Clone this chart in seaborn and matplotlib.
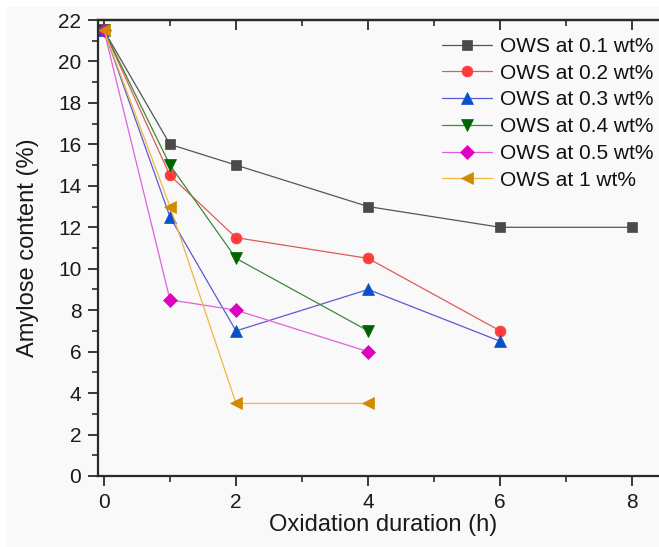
import matplotlib
matplotlib.use("Agg")
import matplotlib.pyplot as plt
import seaborn as sns
import pandas as pd
from matplotlib.ticker import MultipleLocator
from matplotlib.patches import Rectangle

sns.set_style("ticks")
plt.rcParams['font.family'] = ['Liberation Sans', 'DejaVu Sans']

labels = ["OWS at 0.1 wt%", "OWS at 0.2 wt%", "OWS at 0.3 wt%",
          "OWS at 0.4 wt%", "OWS at 0.5 wt%", "OWS at 1 wt%"]
x_01 = [0, 1, 2, 4, 6, 8]
y_01 = [21.5, 16, 15, 13, 12, 12]
x_02 = [0, 1, 2, 4, 6]
y_02 = [21.5, 14.5, 11.5, 10.5, 7]
x_03 = [0, 1, 2, 4, 6]
y_03 = [21.5, 12.5, 7, 9, 6.5]
x_04 = [0, 1, 2, 4]
y_04 = [21.5, 15, 10.5, 7]
x_05 = [0, 1, 2, 4]
y_05 = [21.5, 8.5, 8, 6]
x_1 = [0, 1, 2, 4]
y_1 = [21.5, 13, 3.5, 3.5]

xs = [x_01, x_02, x_03, x_04, x_05, x_1]
ys = [y_01, y_02, y_03, y_04, y_05, y_1]
marker_colors = ["#4a4a4a", "#ff3c3c", "#0a50c8", "#006400", "#e000c0", "#d08a00"]
line_colors = ["#555555", "#e05a5a", "#5a5ad0", "#3a8a3a", "#e060e0", "#f0b840"]
markers = ["s", "o", "^", "v", "D", "<"]
msizes = [7.2, 7.8, 9.2, 9.2, 6.8, 9.2]

bg = "#f9f9f9"
fig = plt.figure(figsize=(6.59, 5.47), dpi=100, facecolor="white")
fig.patches.append(Rectangle((7 / 659, 0), 1, 540 / 547, transform=fig.transFigure,
                             facecolor=bg, edgecolor="none", zorder=-10))
ax = fig.add_axes([0.1487, 0.1298, 0.866, 0.8336])
ax.set_facecolor(bg)

for x, y, lab, mc, lc, m, ms in zip(xs, ys, labels, marker_colors, line_colors, markers, msizes):
    df = pd.DataFrame({"x": x, "y": y})
    sns.lineplot(data=df, x="x", y="y", ax=ax, color=lc, linewidth=0.9,
                 marker=m, markersize=ms, markerfacecolor=mc,
                 markeredgecolor=mc, markeredgewidth=0.5, label=lab)

ax.set_xlim(-0.09, 8.55)
ax.set_ylim(0, 22)
ax.xaxis.set_major_locator(MultipleLocator(2))
ax.xaxis.set_minor_locator(MultipleLocator(1))
ax.yaxis.set_major_locator(MultipleLocator(2))
ax.yaxis.set_minor_locator(MultipleLocator(1))

sc = "#2a2a2a"
for s in ax.spines.values():
    s.set_linewidth(1.6)
    s.set_color(sc)

ax.tick_params(axis="both", which="major", direction="out", length=7, width=1.3,
               labelsize=15, colors=sc, labelcolor="#1a1a1a", pad=5)
ax.tick_params(axis="both", which="minor", direction="out", length=4, width=1.2, colors=sc)
sec_x = ax.secondary_xaxis("top")
sec_x.xaxis.set_major_locator(MultipleLocator(2))
sec_x.xaxis.set_minor_locator(MultipleLocator(1))
sec_x.tick_params(which="major", direction="in", length=7, width=1.3, labeltop=False, colors=sc)
sec_x.tick_params(which="minor", direction="in", length=4, width=1.2, colors=sc)
sec_x.spines["top"].set_linewidth(1.6)
sec_x.spines["top"].set_color(sc)
sec_y = ax.secondary_yaxis("right")
sec_y.yaxis.set_major_locator(MultipleLocator(2))
sec_y.yaxis.set_minor_locator(MultipleLocator(1))
sec_y.tick_params(which="major", direction="in", length=7, width=1.3, labelright=False, colors=sc)
sec_y.tick_params(which="minor", direction="in", length=4, width=1.2, colors=sc)
ax.tick_params(top=False, right=False, which="both")

ax.set_xlabel("Oxidation duration (h)", fontsize=17, color="#1a1a1a", labelpad=2)
ax.set_ylabel("Amylose content (%)", fontsize=17, color="#1a1a1a", labelpad=14)

leg = ax.legend(loc="upper right", bbox_to_anchor=(0.995, 0.99), frameon=False,
                fontsize=15, handlelength=2.4, labelspacing=0.37, handletextpad=0.4,
                borderaxespad=0.2)
for t in leg.get_texts():
    t.set_color("#111111")

fig.savefig("out.png", dpi=100, facecolor="white")
